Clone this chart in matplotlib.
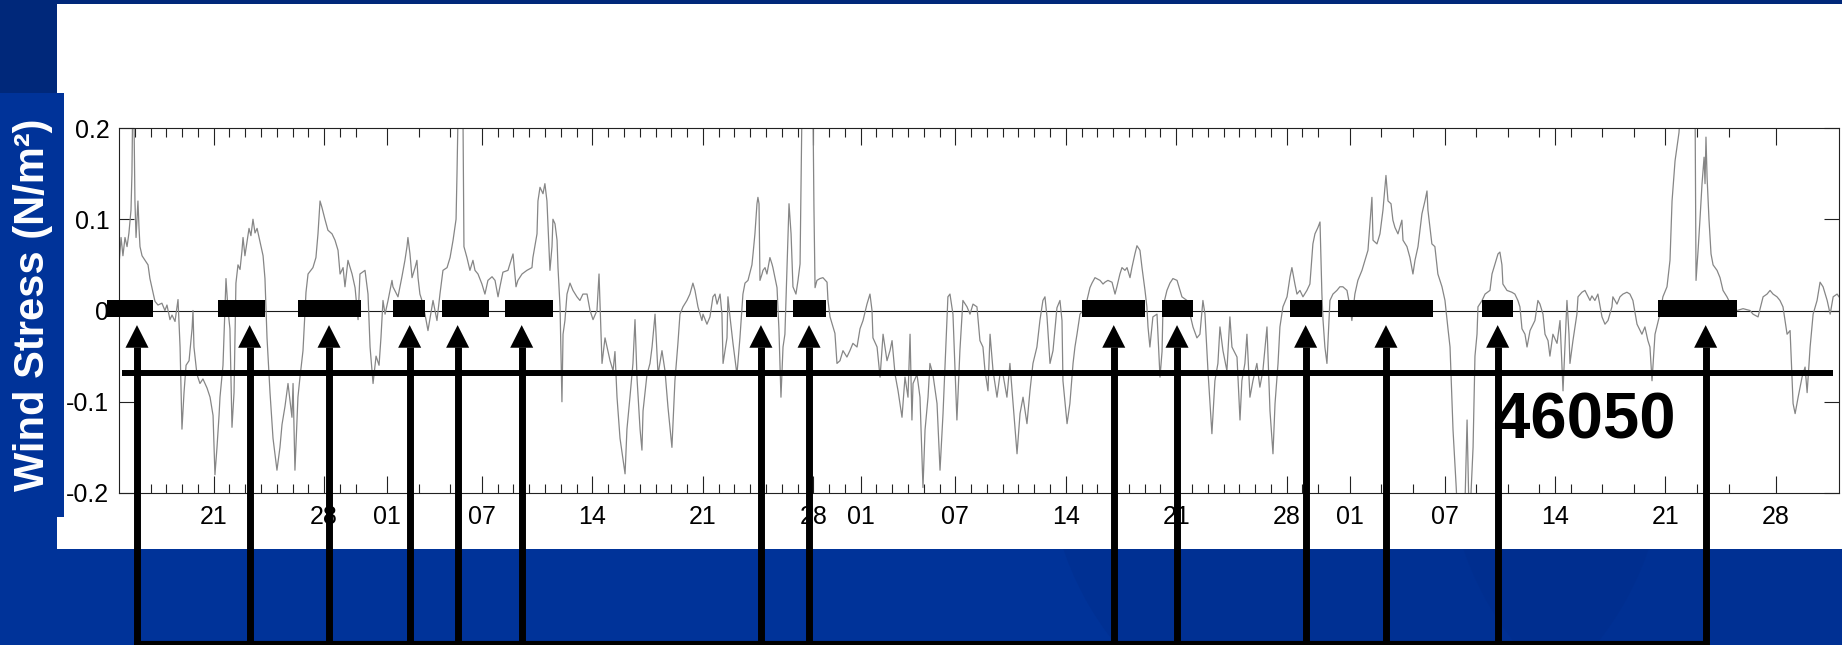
import numpy as np
import matplotlib
matplotlib.use('Agg')
import matplotlib.pyplot as plt
import matplotlib.dates as mdates
from matplotlib.patches import Rectangle, Polygon, Ellipse
from matplotlib.ticker import FixedLocator, FixedFormatter
from matplotlib.transforms import blended_transform_factory
from datetime import datetime, timedelta

plt.rcParams['font.family'] = ['Liberation Sans', 'DejaVu Sans']

# wind stress at buoy 46050, time in days after 15 Oct
t_day = [
    0.00, 0.13, 0.25, 0.38, 0.51, 0.63, 0.76, 0.82, 0.89, 0.95,
    1.01, 1.08, 1.14, 1.20, 1.27, 1.33, 1.46, 1.65, 1.84, 1.96,
    2.09, 2.28, 2.47, 2.72, 2.91, 3.04, 3.23, 3.36, 3.55, 3.74,
    3.87, 3.99, 4.12, 4.25, 4.44, 4.63, 4.69, 4.75, 4.94, 5.13,
    5.32, 5.58, 5.77, 5.96, 6.08, 6.21, 6.34, 6.40, 6.59, 6.78,
    6.91, 7.03, 7.16, 7.29, 7.41, 7.54, 7.67, 7.79, 7.86, 7.98,
    8.11, 8.24, 8.36, 8.49, 8.62, 8.75, 8.94, 9.13, 9.25, 9.38,
    9.57, 9.76, 10.01, 10.20, 10.33, 10.52, 10.71, 10.96, 11.03, 11.15,
    11.34, 11.47, 11.66, 11.85, 11.98, 12.29, 12.48, 12.61, 12.74, 12.86,
    13.05, 13.24, 13.50, 13.69, 13.88, 14.01, 14.20, 14.32, 14.51, 14.77,
    14.96, 15.15, 15.27, 15.59, 15.78, 15.91, 16.10, 16.29, 16.48, 16.60,
    16.73, 16.86, 17.05, 17.30, 17.36, 17.68, 17.93, 18.12, 18.25, 18.31,
    18.44, 18.57, 18.76, 18.88, 18.95, 19.07, 19.20, 19.39, 19.58, 19.83,
    19.90, 20.15, 20.34, 20.53, 20.79, 20.98, 21.17, 21.36, 21.42, 21.48,
    21.55, 21.74, 21.80, 21.86, 22.05, 22.24, 22.43, 22.56, 22.75, 23.00,
    23.19, 23.38, 23.64, 23.83, 24.02, 24.14, 24.33, 24.65, 24.97, 25.16,
    25.28, 25.54, 25.85, 26.17, 26.23, 26.49, 26.55, 26.68, 26.87, 26.99,
    27.12, 27.19, 27.31, 27.44, 27.50, 27.63, 27.76, 27.82, 27.95, 28.07,
    28.14, 28.26, 28.39, 28.58, 28.77, 29.02, 29.21, 29.40, 29.66, 29.85,
    30.04, 30.29, 30.42, 30.61, 30.80, 30.93, 31.12, 31.31, 31.43, 31.56,
    31.75, 32.07, 32.19, 32.38, 32.57, 32.70, 32.83, 33.02, 33.14, 33.21,
    33.46, 33.65, 33.78, 33.97, 34.16, 34.41, 34.60, 34.79, 35.04, 35.23,
    35.42, 35.55, 35.74, 35.99, 36.18, 36.37, 36.50, 36.69, 36.94, 37.01,
    37.26, 37.45, 37.64, 37.77, 37.90, 38.09, 38.21, 38.28, 38.53, 38.59,
    38.72, 38.91, 39.16, 39.35, 39.54, 39.67, 39.86, 40.11, 40.18, 40.30,
    40.43, 40.49, 40.56, 40.62, 40.75, 40.81, 40.94, 41.06, 41.25, 41.38,
    41.44, 41.57, 41.70, 41.82, 41.95, 42.08, 42.20, 42.33, 42.46, 42.59,
    42.71, 42.90, 43.03, 43.16, 43.28, 43.47, 43.79, 43.98, 44.04, 44.11,
    44.23, 44.42, 44.61, 44.87, 44.93, 45.06, 45.25, 45.37, 45.50, 45.69,
    45.88, 46.13, 46.32, 46.51, 46.77, 46.96, 47.15, 47.40, 47.59, 47.72,
    47.78, 48.04, 48.23, 48.42, 48.67, 48.86, 48.99, 49.18, 49.37, 49.62,
    49.81, 50.00, 50.13, 50.25, 50.32, 50.57, 50.76, 50.95, 51.08, 51.27,
    51.39, 51.58, 51.84, 52.03, 52.22, 52.47, 52.53, 52.66, 52.85, 53.10,
    53.29, 53.48, 53.74, 53.93, 54.12, 54.37, 54.56, 54.75, 54.88, 55.07,
    55.20, 55.39, 55.64, 55.83, 56.02, 56.27, 56.46, 56.65, 56.91, 57.10,
    57.29, 57.54, 57.73, 57.92, 58.17, 58.36, 58.55, 58.68, 58.81, 59.00,
    59.19, 59.44, 59.63, 59.76, 59.82, 60.08, 60.26, 60.46, 60.58, 60.71,
    60.90, 61.09, 61.34, 61.53, 61.66, 61.85, 62.17, 62.36, 62.48, 62.67,
    62.93, 63.12, 63.24, 63.43, 63.56, 63.75, 63.88, 64.07, 64.19, 64.38,
    64.51, 64.70, 64.83, 65.02, 65.14, 65.21, 65.33, 65.52, 65.78, 65.97,
    66.10, 66.16, 66.41, 66.60, 66.79, 67.05, 67.24, 67.36, 67.68, 67.87,
    68.06, 68.31, 68.50, 68.69, 68.82, 69.01, 69.26, 69.45, 69.64, 69.77,
    69.96, 70.21, 70.40, 70.53, 70.85, 71.04, 71.16, 71.35, 71.48, 71.67,
    71.86, 72.11, 72.30, 72.49, 72.75, 72.94, 73.13, 73.26, 73.45, 73.57,
    73.76, 74.02, 74.21, 74.33, 74.52, 74.65, 74.84, 75.03, 75.28, 75.47,
    75.66, 75.79, 75.98, 76.11, 76.23, 76.30, 76.42, 76.55, 76.74, 76.93,
    77.18, 77.37, 77.56, 77.82, 78.01, 78.13, 78.32, 78.51, 78.77, 78.96,
    79.15, 79.40, 79.47, 79.72, 79.91, 80.10, 80.29, 80.42, 80.61, 80.73,
    80.86, 81.05, 81.30, 81.37, 81.62, 81.81, 82.00, 82.13, 82.32, 82.57,
    82.76, 82.89, 82.95, 83.20, 83.39, 83.58, 83.84, 84.03, 84.22, 84.35,
    84.54, 84.73, 84.85, 85.11, 85.30, 85.43, 85.55, 85.68, 85.81, 85.93,
    86.06, 86.12, 86.38, 86.57, 86.88, 87.01, 87.20, 87.39, 87.51, 87.64,
    87.70, 87.96, 88.27, 88.46, 88.65, 88.78, 88.91, 89.10, 89.23, 89.42,
    89.73, 89.92, 90.05, 90.24, 90.37, 90.56, 90.68, 90.87, 91.13, 91.32,
    91.51, 91.63, 91.76, 91.89, 91.95, 92.14, 92.39, 92.46, 92.71, 92.90,
    93.22, 93.34, 93.53, 93.72, 93.98, 94.17, 94.36, 94.61, 94.67, 94.93,
    95.12, 95.31, 95.56, 95.75, 95.94, 96.20, 96.51, 96.70, 96.89, 97.02,
    97.15, 97.34, 97.65, 97.84, 98.10, 98.29, 98.42, 98.61, 98.74, 98.86,
    98.99, 99.56, 99.88, 99.94, 100.07, 100.19, 100.32, 100.45, 100.51, 100.57,
    100.64, 100.76, 100.89, 101.02, 101.27, 101.46, 101.65, 101.90, 102.22, 102.54,
    102.92, 103.36, 103.55, 103.87, 104.19, 104.44, 104.63, 104.82, 105.07, 105.26,
    105.45, 105.71, 105.90, 106.09, 106.22, 106.41, 106.66, 106.85, 106.98, 107.17,
    107.36, 107.61, 107.80, 107.99, 108.25, 108.44, 108.63, 108.88, 109.00,
]

tau = [
    0.05, 0.08, 0.06, 0.08, 0.07, 0.085, 0.11, 0.15, 0.26, 0.21,
    0.12, 0.08, 0.10, 0.12, 0.09, 0.07, 0.06, 0.055, 0.05, 0.035,
    0.025, 0.01, 0.006, 0.008, 0.0, 0.006, -0.01, -0.005, -0.012, 0.012,
    -0.04, -0.13, -0.09, -0.06, -0.055, -0.02, 0.0, -0.04, -0.07, -0.08,
    -0.075, -0.085, -0.095, -0.115, -0.18, -0.15, -0.115, -0.095, -0.06, 0.035,
    0.0, -0.02, -0.128, -0.09, 0.03, 0.05, 0.045, 0.065, 0.08, 0.06,
    0.075, 0.09, 0.082, 0.10, 0.085, 0.09, 0.075, 0.06, 0.035, -0.03,
    -0.09, -0.14, -0.175, -0.15, -0.125, -0.105, -0.08, -0.117, -0.08, -0.175,
    -0.095, -0.073, -0.044, 0.02, 0.04, 0.047, 0.058, 0.084, 0.12, 0.113,
    0.10, 0.088, 0.084, 0.077, 0.066, 0.04, 0.047, 0.026, 0.055, 0.04,
    0.025, -0.01, 0.04, 0.044, 0.018, -0.04, -0.08, -0.05, -0.06, -0.03,
    0.011, -0.004, 0.011, 0.033, 0.026, 0.015, 0.037, 0.055, 0.07, 0.08,
    0.062, 0.036, 0.047, 0.055, 0.036, 0.018, 0.011, -0.004, -0.022, 0.004,
    0.011, -0.011, 0.018, 0.044, 0.047, 0.058, 0.077, 0.10, 0.15, 0.21,
    0.26, 0.25, 0.21, 0.07, 0.058, 0.044, 0.055, 0.044, 0.04, 0.029,
    0.018, 0.033, 0.037, 0.033, 0.015, 0.026, 0.042, 0.044, 0.062, 0.026,
    0.033, 0.04, 0.044, 0.047, 0.058, 0.084, 0.12, 0.135, 0.128, 0.139,
    0.12, 0.091, 0.044, 0.07, 0.10, 0.095, 0.077, 0.047, 0.004, -0.10,
    -0.026, -0.011, 0.018, 0.03, 0.022, 0.015, 0.011, 0.018, 0.018, 0.0,
    -0.01, 0.0, 0.04, -0.058, -0.03, -0.04, -0.055, -0.066, -0.045, -0.095,
    -0.14, -0.179, -0.13, -0.095, -0.058, -0.01, -0.075, -0.13, -0.153, -0.11,
    -0.07, -0.058, -0.04, -0.004, -0.07, -0.044, -0.066, -0.106, -0.15, -0.077,
    -0.036, -0.004, 0.004, 0.011, 0.018, 0.03, 0.022, 0.004, -0.011, -0.004,
    -0.015, -0.007, 0.015, 0.018, 0.007, 0.018, -0.004, -0.058, -0.03, 0.015,
    -0.007, -0.036, -0.07, -0.03, 0.018, 0.03, 0.033, 0.05, 0.062, 0.084,
    0.117, 0.124, 0.117, 0.033, 0.04, 0.044, 0.047, 0.04, 0.058, 0.051,
    0.047, 0.036, 0.025, -0.02, -0.095, -0.04, -0.026, 0.047, 0.117, 0.084,
    0.026, 0.018, 0.033, 0.051, 0.22, 0.3, 0.3, 0.22, 0.113, 0.025,
    0.033, 0.035, 0.036, 0.031, 0.011, -0.007, -0.018, -0.025, -0.058, -0.055,
    -0.044, -0.051, -0.044, -0.036, -0.04, -0.02, -0.011, 0.007, 0.018, 0.0,
    -0.03, -0.04, -0.073, -0.026, -0.055, -0.044, -0.033, -0.07, -0.088, -0.117,
    -0.073, -0.095, -0.026, -0.12, -0.08, -0.07, -0.095, -0.194, -0.131, -0.095,
    -0.058, -0.07, -0.102, -0.175, -0.113, -0.009, 0.015, 0.018, -0.004, -0.12,
    -0.044, 0.011, 0.004, -0.004, 0.007, 0.004, -0.033, -0.04, -0.066, -0.088,
    -0.026, -0.066, -0.095, -0.07, -0.07, -0.095, -0.058, -0.1, -0.157, -0.113,
    -0.095, -0.124, -0.088, -0.058, -0.04, -0.011, 0.011, 0.015, -0.007, -0.058,
    -0.044, 0.003, 0.011, -0.011, -0.077, -0.124, -0.102, -0.058, -0.04, -0.026,
    -0.004, 0.0, 0.011, 0.025, 0.03, 0.036, 0.033, 0.029, 0.031, 0.033,
    0.031, 0.018, 0.026, 0.04, 0.047, 0.044, 0.047, 0.036, 0.047, 0.062,
    0.071, 0.066, 0.047, 0.022, 0.004, -0.018, -0.04, -0.007, -0.004, -0.073,
    -0.045, 0.004, 0.022, 0.03, 0.035, 0.033, 0.022, 0.015, 0.011, -0.004,
    -0.018, -0.03, -0.026, 0.011, -0.004, -0.066, -0.135, -0.077, -0.058, -0.018,
    -0.044, -0.066, -0.007, -0.04, -0.051, -0.12, -0.077, -0.058, -0.026, -0.095,
    -0.077, -0.058, -0.084, -0.066, -0.018, -0.11, -0.157, -0.102, -0.058, -0.018,
    0.004, 0.015, 0.037, 0.047, 0.029, 0.018, 0.022, 0.015, 0.022, 0.029,
    0.073, 0.084, 0.091, 0.097, 0.018, -0.01, -0.04, -0.058, 0.011, 0.018,
    0.022, 0.026, 0.026, 0.022, 0.004, -0.011, 0.018, 0.033, 0.044, 0.055,
    0.066, 0.124, 0.077, 0.073, 0.084, 0.11, 0.148, 0.12, 0.117, 0.099,
    0.091, 0.084, 0.099, 0.077, 0.07, 0.058, 0.04, 0.055, 0.07, 0.106,
    0.12, 0.131, 0.11, 0.073, 0.07, 0.04, 0.026, 0.011, -0.02, -0.04,
    -0.131, -0.19, -0.23, -0.24, -0.21, -0.12, -0.22, -0.2, -0.15, -0.05,
    -0.026, 0.004, 0.011, 0.018, 0.022, 0.04, 0.051, 0.062, 0.064, 0.05,
    0.029, 0.022, 0.02, 0.018, 0.011, 0.004, -0.02, -0.026, -0.04, -0.022,
    -0.011, 0.011, 0.007, -0.004, -0.026, -0.033, -0.05, -0.026, -0.036, -0.011,
    -0.088, -0.04, 0.011, -0.026, -0.058, -0.033, -0.004, 0.015, 0.02, 0.022,
    0.011, 0.016, 0.011, 0.018, -0.007, -0.015, -0.011, 0.004, 0.015, 0.007,
    0.015, 0.018, 0.02, 0.018, 0.011, -0.015, -0.026, -0.018, -0.033, -0.04,
    -0.077, -0.026, -0.004, 0.015, 0.026, 0.055, 0.12, 0.164, 0.18, 0.195,
    0.23, 0.25, 0.22, 0.033, 0.066, 0.1, 0.139, 0.168, 0.139, 0.19,
    0.146, 0.1, 0.062, 0.05, 0.044, 0.036, 0.022, 0.015, 0.004, 0.0,
    0.002, 0.0, -0.004, -0.007, 0.015, 0.018, 0.022, 0.018, 0.015, 0.011,
    0.004, -0.026, -0.022, -0.102, -0.113, -0.095, -0.073, -0.062, -0.09, -0.04,
    -0.004, 0.011, 0.031, 0.026, 0.011, -0.004, 0.015, 0.018, 0.015,
]

# northward wind events (bar extents) and their arrows, days after 15 Oct
event_start = [-0.76, 6.27, 11.34, 17.36, 20.47, 24.46, 39.73, 42.71,
               61.03, 66.10, 74.21, 77.25, 86.38, 97.53]
event_end = [2.15, 9.25, 15.34, 19.39, 23.45, 27.50, 41.70, 44.80,
             65.02, 68.06, 76.23, 83.27, 88.34, 102.54]
event_mark = [1.14, 8.28, 13.31, 18.42, 21.46, 25.52, 40.68, 43.73,
              63.04, 67.05, 75.20, 80.29, 87.37, 100.55]

cut_level = -0.068
station = '46050'
ylabel = 'Wind Stress (N/m²)'
yticks = [-0.2, -0.1, 0, 0.1, 0.2]
ytick_labels = ['-0.2', '-0.1', '0', '0.1', '0.2']
major_days = [1, 7, 14, 21, 28]

start = datetime(1998, 10, 15)
end = datetime(1999, 2, 1)
t0 = mdates.date2num(start)

navy = '#00287a'
blue = '#003399'

fig = plt.figure(figsize=(18.42, 6.45), dpi=100)
fig.patch.set_facecolor('white')


def block(x, y, w, h, c):
    r = Rectangle((x, y), w, h, transform=fig.transFigure, facecolor=c,
                  edgecolor='none', zorder=-10)
    fig.add_artist(r)
    return r


# slide background
bottom_band = block(0, 0, 1, 96 / 645, blue)
block(0, 1 - 4 / 645, 1, 4 / 645, navy)
block(0, 1 - 93 / 645, 57 / 1842, 93 / 645, navy)
block(0, 1 - 517 / 645, 64 / 1842, 424 / 645, blue)
block(0, 96 / 645, 57 / 1842, 32 / 645, blue)
for cx in (1356, 1756):
    e = Ellipse((cx / 1842, 1 - 450 / 645), 618 / 1842, 618 / 645,
                transform=fig.transFigure, facecolor='#002d8c', alpha=0.45,
                edgecolor='none', zorder=-9)
    fig.add_artist(e)
    e.set_clip_path(bottom_band)

ax = fig.add_axes([119 / 1842, 152 / 645, 1720 / 1842, 365 / 645])
ax.set_facecolor('white')

x = t0 + np.asarray(t_day)
ax.plot(x, tau, color='#868686', lw=0.9, zorder=2)
ax.axhline(0, color='#1a1a1a', lw=0.8, zorder=1.5)

ax.set_xlim(t0, mdates.date2num(end))
ax.set_ylim(-0.2, 0.2)

# date ticks: labelled weekly marks, daily (sometimes every other day) minor marks
days = [start + timedelta(days=i) for i in range(0, 109)]
majors = [d for d in days if d.day in major_days]
skip = {datetime(1998, 10, 31), datetime(1998, 11, 2), datetime(1998, 11, 4),
        datetime(1998, 11, 6)}
minors = [d for d in days[1:77] if d not in skip and d.day not in major_days]
minors += [datetime(1999, 1, d) for d in [3, 5, 9, 11, 13, 15, 17, 19, 23, 25]]
ax.xaxis.set_major_locator(FixedLocator(mdates.date2num(majors)))
ax.xaxis.set_major_formatter(FixedFormatter([d.strftime('%d') for d in majors]))
ax.xaxis.set_minor_locator(FixedLocator(mdates.date2num(minors)))

ax.yaxis.set_major_locator(FixedLocator(yticks))
ax.yaxis.set_major_formatter(FixedFormatter(ytick_labels))

ax.tick_params(which='both', direction='in', top=True, right=True,
               color='#222222', width=0.8)
ax.tick_params(axis='x', which='major', length=12, pad=9, labelsize=18)
ax.tick_params(axis='x', which='minor', length=6.7)
ax.tick_params(axis='y', which='major', length=11, pad=7, labelsize=18)
for s in ax.spines.values():
    s.set_color('#222222')
    s.set_linewidth(0.8)

# event bars on the zero line
for s, e in zip(event_start, event_end):
    ax.add_patch(Rectangle((t0 + s, -0.0066), e - s, 0.0176, facecolor='k',
                           edgecolor='none', clip_on=False, zorder=5))

ax.plot([t0 + 0.19, t0 + 108.62], [cut_level, cut_level], color='k', lw=4.3,
        solid_capstyle='butt', clip_on=False, zorder=6)

# arrows pointing up at each event, joined underneath the axes
trans = blended_transform_factory(ax.transData, ax.transAxes)
for m in event_mark:
    ax.plot([t0 + m, t0 + m], [-0.43, 0.40], transform=trans, color='k',
            lw=5.0, solid_capstyle='butt', clip_on=False, zorder=6)
    ax.add_patch(Polygon([[t0 + m - 0.73, 0.398], [t0 + m + 0.73, 0.398],
                          [t0 + m, 0.460]], closed=True, transform=trans,
                         facecolor='k', edgecolor='none', clip_on=False,
                         zorder=6))
ax.plot([t0 + event_mark[0] - 0.22, t0 + event_mark[-1] + 0.22],
        [-0.412, -0.412], transform=trans, color='k', lw=3,
        solid_capstyle='butt', clip_on=False, zorder=6)

ax.text(t0 + 92.9, -0.1216, station, fontsize=47, fontweight='bold',
        ha='center', va='center', zorder=7)

fig.text(33 / 1842, 1 - 304.5 / 645, ylabel, rotation=90, color='white',
         fontsize=30, fontweight='bold', ha='center', va='center')

fig.savefig('out.png', dpi=100, facecolor=fig.get_facecolor())
